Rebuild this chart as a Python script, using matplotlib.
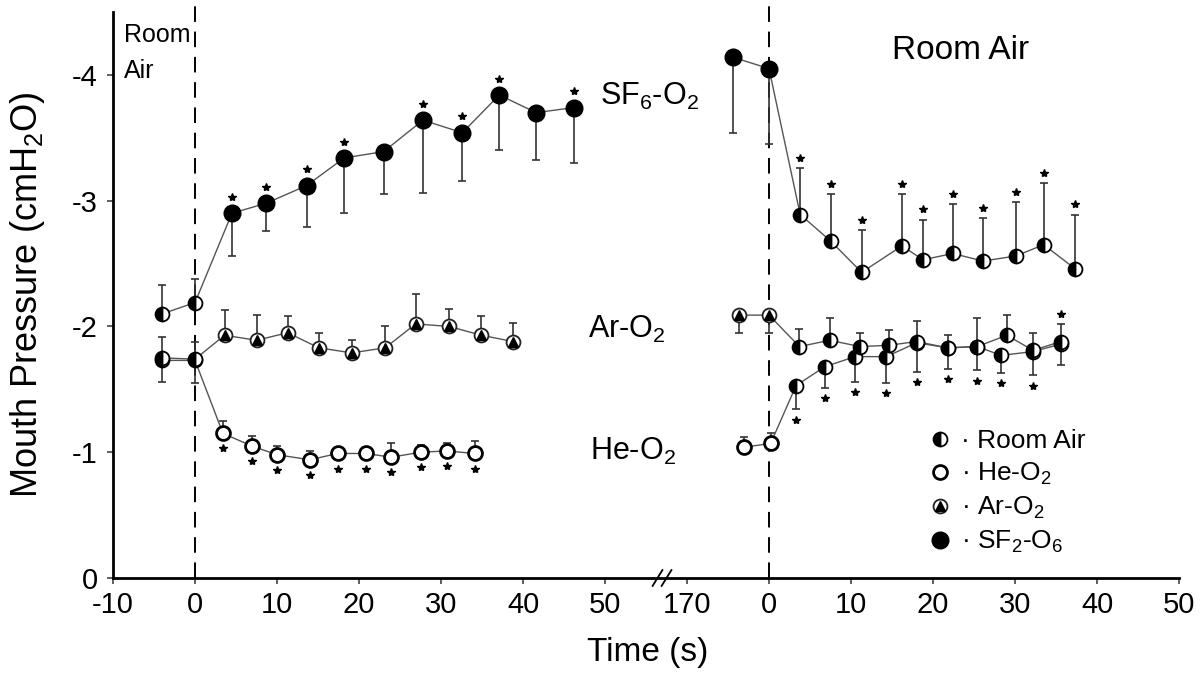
import matplotlib
matplotlib.use("Agg")
import matplotlib.pyplot as plt
import numpy as np
from matplotlib.lines import Line2D

plt.rcParams["font.family"] = ["Liberation Sans", "DejaVu Sans"]
plt.rcParams["mathtext.fontset"] = "custom"
plt.rcParams["mathtext.rm"] = "Liberation Sans"
plt.rcParams["mathtext.it"] = "Liberation Sans:italic"
plt.rcParams["mathtext.default"] = "regular"

# right-hand panel (recovery on room air) is drawn shifted along one shared axis
RIGHT_OFFSET = 70

# ---------------- left panel: room air baseline -> test gas ----------------
sf6_base_t = [-4.0, 0.0]
sf6_base_v = [-2.10, -2.19]
sf6_base_err = [0.23, 0.19]          # bars drawn upward (more negative)

sf6_t = [4.5, 8.7, 13.6, 18.2, 23.0, 27.8, 32.6, 37.1, 41.6, 46.2]
sf6_v = [-2.90, -2.98, -3.12, -3.34, -3.39, -3.64, -3.54, -3.84, -3.70, -3.74]
sf6_err = [0.34, 0.22, 0.33, 0.44, 0.34, 0.58, 0.38, 0.44, 0.38, 0.44]  # downward
sf6_sig = [1, 1, 1, 1, 0, 1, 1, 1, 0, 1]

ar_base_t = [-4.0, 0.0]
ar_base_v = [-1.75, -1.74]
ar_base_err = [0.17, 0.14]           # upward

he_base_t = [-4.0, 0.0]
he_base_v = [-1.73, -1.73]
he_base_err = [0.17, 0.18]           # downward

ar_t = [3.6, 7.5, 11.3, 15.1, 19.1, 23.2, 26.9, 31.0, 34.9, 38.8]
ar_v = [-1.93, -1.89, -1.95, -1.83, -1.79, -1.83, -2.02, -2.00, -1.93, -1.88]
ar_err = [0.20, 0.20, 0.13, 0.12, 0.10, 0.17, 0.24, 0.14, 0.15, 0.15]  # upward

he_t = [3.4, 6.9, 10.0, 14.0, 17.4, 20.9, 23.9, 27.5, 30.7, 34.1]
he_v = [-1.15, -1.05, -0.98, -0.94, -0.99, -0.99, -0.96, -1.00, -1.01, -0.99]
he_err = [0.10, 0.08, 0.07, 0.07, 0.05, 0.05, 0.11, 0.06, 0.06, 0.10]  # upward
he_sig = [1, 1, 1, 1, 1, 1, 1, 1, 1, 1]

# ---------------- right panel: test gas -> room air ----------------
r_sf6_t = [-4.4, 0.0]
r_sf6_v = [-4.14, -4.05]
r_sf6_err = [0.60, 0.60]             # downward

r_ra_sf6_t = [3.8, 7.5, 11.3, 16.2, 18.8, 22.4, 26.1, 30.1, 33.5, 37.3]
r_ra_sf6_v = [-2.89, -2.68, -2.43, -2.64, -2.53, -2.58, -2.52, -2.56, -2.65, -2.46]
r_ra_sf6_err = [0.37, 0.37, 0.34, 0.41, 0.32, 0.39, 0.34, 0.43, 0.49, 0.43]  # upward
r_ra_sf6_sig = [1, 1, 1, 1, 1, 1, 1, 1, 1, 1]

r_ar_t = [-3.7, 0.0]
r_ar_v = [-2.09, -2.09]
r_ar_err = [0.14, 0.14]              # downward

r_ra_ar_t = [3.7, 7.4, 11.1, 14.6, 18.0, 21.8, 25.4, 29.0, 32.2, 35.6]
r_ra_ar_v = [-1.84, -1.89, -1.84, -1.85, -1.88, -1.83, -1.84, -1.93, -1.81, -1.88]
r_ra_ar_err = [0.14, 0.18, 0.11, 0.12, 0.16, 0.10, 0.23, 0.16, 0.14, 0.14]  # upward
r_ra_ar_sig = [0, 0, 0, 0, 0, 0, 0, 0, 0, 1]

r_he_t = [-3.0, 0.2]
r_he_v = [-1.04, -1.07]
r_he_err = [0.08, 0.08]              # upward

r_ra_he_t = [3.3, 6.8, 10.5, 14.3, 18.0, 21.8, 25.4, 28.3, 32.2, 35.6]
r_ra_he_v = [-1.53, -1.68, -1.76, -1.76, -1.87, -1.83, -1.84, -1.77, -1.80, -1.86]
r_ra_he_err = [0.19, 0.17, 0.20, 0.21, 0.23, 0.17, 0.19, 0.14, 0.19, 0.17]  # downward
r_ra_he_sig = [1, 1, 1, 1, 1, 1, 1, 1, 1, 0]

xtick_pos = [-10, 0, 10, 20, 30, 40, 50, 60, 70, 80, 90, 100, 110, 120]
xtick_labels = ["-10", "0", "10", "20", "30", "40", "50", "170",
                "0", "10", "20", "30", "40", "50"]
ytick_pos = [0, -1, -2, -3, -4]

LINE_C = "#555555"
BAR_C = "#333333"

MARKERS = {
    "room": dict(marker="o", ms=10, fillstyle="left", markerfacecolor="black",
                 markerfacecoloralt="white", markeredgecolor="black", mew=1.3),
    "he": dict(marker="o", ms=10, markerfacecolor="white",
               markeredgecolor="black", mew=2.0),
    "ar": dict(marker="o", ms=10, markerfacecolor="white",
               markeredgecolor="#222222", mew=1.3),
    "sf6": dict(marker="o", ms=12, markerfacecolor="black",
                markeredgecolor="black", mew=1),
}


def shift(t, off):
    return [x + off for x in t]


def line(ax, t, v):
    ax.plot(t, v, color=LINE_C, lw=1.0, zorder=2)


def bars(ax, t, v, err, up):
    e = np.array(err)
    z = np.zeros_like(e)
    yerr = [e, z] if up else [z, e]
    ax.errorbar(t, v, yerr=yerr, fmt="none", ecolor=BAR_C, elinewidth=1.2,
                capsize=3, capthick=1.2, zorder=1)


def marks(ax, t, v, kind):
    ax.plot(t, v, linestyle="none", zorder=4, **MARKERS[kind])
    if kind == "ar":
        ax.plot(t, v, linestyle="none", marker="^", ms=7, color="black", zorder=5)


def stars(ax, t, y, sig):
    ts = [a for a, s in zip(t, sig) if s]
    ys = [b for b, s in zip(y, sig) if s]
    ax.plot(ts, ys, linestyle="none", marker="*", ms=6, color="black", zorder=5)


fig = plt.figure(figsize=(12, 6.78), dpi=100)
ax = fig.add_axes([0.0942, 0.1475, 0.8883, 0.8348])

# ---- left panel ----
line(ax, sf6_base_t + sf6_t, sf6_base_v + sf6_v)
bars(ax, sf6_base_t, sf6_base_v, sf6_base_err, up=True)
bars(ax, sf6_t, sf6_v, sf6_err, up=False)
marks(ax, sf6_base_t, sf6_base_v, "room")
marks(ax, sf6_t, sf6_v, "sf6")
stars(ax, sf6_t, [v - 0.13 for v in sf6_v], sf6_sig)

line(ax, ar_base_t + ar_t, ar_base_v + ar_v)
line(ax, he_base_t + he_t, he_base_v + he_v)
bars(ax, ar_base_t, ar_base_v, ar_base_err, up=True)
bars(ax, he_base_t, he_base_v, he_base_err, up=False)
bars(ax, ar_t, ar_v, ar_err, up=True)
bars(ax, he_t, he_v, he_err, up=True)
marks(ax, he_base_t, he_base_v, "room")
marks(ax, ar_base_t, ar_base_v, "room")
marks(ax, ar_t, ar_v, "ar")
marks(ax, he_t, he_v, "he")
stars(ax, he_t, [v + 0.12 for v in he_v], he_sig)

# ---- right panel ----
o = RIGHT_OFFSET
line(ax, shift(r_sf6_t + r_ra_sf6_t, o), r_sf6_v + r_ra_sf6_v)
bars(ax, shift(r_sf6_t, o), r_sf6_v, r_sf6_err, up=False)
bars(ax, shift(r_ra_sf6_t, o), r_ra_sf6_v, r_ra_sf6_err, up=True)
marks(ax, shift(r_sf6_t, o), r_sf6_v, "sf6")
marks(ax, shift(r_ra_sf6_t, o), r_ra_sf6_v, "room")
stars(ax, shift(r_ra_sf6_t, o),
      [v - e - 0.08 for v, e in zip(r_ra_sf6_v, r_ra_sf6_err)], r_ra_sf6_sig)

line(ax, shift(r_ar_t + r_ra_ar_t, o), r_ar_v + r_ra_ar_v)
line(ax, shift(r_he_t + r_ra_he_t, o), r_he_v + r_ra_he_v)
bars(ax, shift(r_ar_t, o), r_ar_v, r_ar_err, up=False)
bars(ax, shift(r_ra_ar_t, o), r_ra_ar_v, r_ra_ar_err, up=True)
bars(ax, shift(r_he_t, o), r_he_v, r_he_err, up=True)
bars(ax, shift(r_ra_he_t, o), r_ra_he_v, r_ra_he_err, up=False)
marks(ax, shift(r_ar_t, o), r_ar_v, "ar")
marks(ax, shift(r_he_t, o), r_he_v, "he")
marks(ax, shift(r_ra_he_t, o), r_ra_he_v, "room")
marks(ax, shift(r_ra_ar_t, o), r_ra_ar_v, "room")
stars(ax, shift(r_ra_ar_t, o),
      [v - e - 0.08 for v, e in zip(r_ra_ar_v, r_ra_ar_err)], r_ra_ar_sig)
stars(ax, shift(r_ra_he_t, o),
      [v + e + 0.08 for v, e in zip(r_ra_he_v, r_ra_he_err)], r_ra_he_sig)

# gas switch markers
for xv in (0, o):
    ax.axvline(xv, ymin=0, ymax=1.012, color="black", lw=1.4,
               dashes=(8, 5), clip_on=False, zorder=0)

# axes styling
ax.set_xlim(-10, 120)
ax.set_ylim(0, -4.5)
ax.set_xticks(xtick_pos)
ax.set_xticklabels(xtick_labels)
ax.set_yticks(ytick_pos)
ax.set_yticklabels([str(int(v)) for v in ytick_pos])
ax.tick_params(axis="both", direction="out", length=4, width=1.2,
               labelsize=21, color="#444444")
ax.tick_params(axis="x", pad=5.5)
ax.tick_params(axis="y", pad=7)
for side in ("top", "right"):
    ax.spines[side].set_visible(False)
for side in ("left", "bottom"):
    ax.spines[side].set_linewidth(2.0)

# axis break mark
xt = ax.get_xaxis_transform()
for dx in (-0.6, 0.5):
    ax.plot([56.4 + dx, 57.6 + dx], [-0.014, 0.014], color="black", lw=1.3,
            transform=xt, clip_on=False)

ax.set_ylabel("Mouth Pressure (cmH$_2$O)", fontsize=26)
ax.yaxis.set_label_coords(-0.062, 0.5)
ax.set_xlabel("Time (s)", fontsize=24)
ax.xaxis.set_label_coords(0.502, -0.105)

# annotations
ax.text(-8.7, -4.41, "Room\nAir", fontsize=18, ha="left", va="top", linespacing=1.6)
ax.text(93.3, -4.13, "Room Air", fontsize=24, ha="center", va="baseline")
ax.text(49.4, -3.76, "SF$_6$-O$_2$", fontsize=22, ha="left", va="baseline")
ax.text(47.9, -1.91, "Ar-O$_2$", fontsize=22, ha="left", va="baseline")
ax.text(48.2, -0.94, "He-O$_2$", fontsize=22, ha="left", va="baseline")

# legend
h_room = Line2D([], [], linestyle="none", **MARKERS["room"])
h_he = Line2D([], [], linestyle="none", **MARKERS["he"])
h_ar = (Line2D([], [], linestyle="none", **MARKERS["ar"]),
        Line2D([], [], linestyle="none", marker="^", ms=7, color="black"))
h_sf6 = Line2D([], [], linestyle="none", **MARKERS["sf6"])
ax.legend([h_room, h_he, h_ar, h_sf6],
          ["\u00b7 Room Air", "\u00b7 He-O$_2$", "\u00b7 Ar-O$_2$", "\u00b7 SF$_2$-O$_6$"],
          loc="upper left", bbox_to_anchor=(0.763, 0.263), frameon=False,
          fontsize=19, handlelength=1.0, handletextpad=0.3, labelspacing=0.3,
          borderpad=0, borderaxespad=0)

fig.savefig("out.png", dpi=100, facecolor="white")
